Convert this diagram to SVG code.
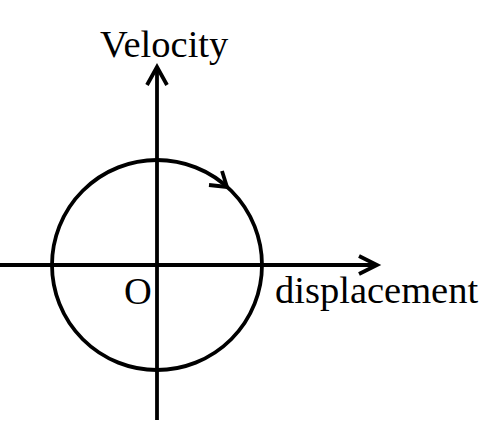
<svg xmlns="http://www.w3.org/2000/svg" width="488" height="423" viewBox="0 0 488 423">
<style>
.ln{fill:none;stroke:#000;stroke-width:3.8}
.tx{font-family:"Liberation Serif","Times New Roman",serif;font-size:38.5px;fill:#000}
</style>
<rect width="488" height="423" fill="#fff"/>
<g id="connectors">
<line class="ln" x1="0" y1="265" x2="375" y2="265"/>
<polyline class="ln" points="359,256 377,265 359,274"/>
<line class="ln" x1="157" y1="420" x2="157" y2="69"/>
<polyline class="ln" points="147,85 157,67 167,85"/>
</g>
<g id="circle">
<circle class="ln" cx="157" cy="265" r="105"/>
<polyline class="ln" points="222,171 227,187 209,185"/>
</g>
<g id="label-velocity"><text class="tx" x="100" y="57">Velocity</text></g>
<g id="label-displacement"><text class="tx" x="275" y="303">displacement</text></g>
<g id="label-origin"><text class="tx" x="124" y="304">O</text></g>
</svg>
